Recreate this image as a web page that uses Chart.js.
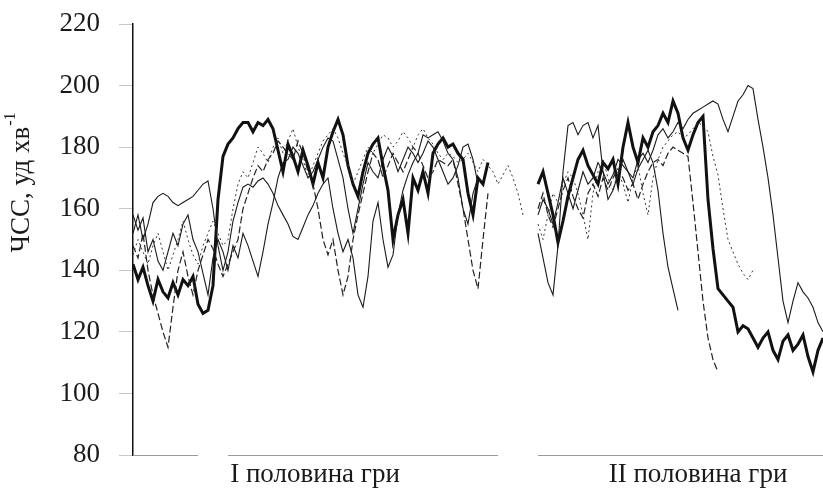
<!DOCTYPE html>
<html>
<head>
<meta charset="utf-8">
<script src="https://cdn.jsdelivr.net/npm/chart.js@4"></script>
<style>
  html, body { margin: 0; padding: 0; background: #fff; }
  #wrap { width: 823px; height: 494px; position: relative; }
</style>
</head>
<body>
<div id="wrap"><canvas id="hr-chart"></canvas></div>
<script>
// heart rate traces, one sample every step along the match
const firstStart = 0;
const secondStart = 81;
const xMax = 138;

const halfLabels = ['I половина гри', 'II половина гри'];
const halfCenters = [36.4, 113];
const axisSegments = [[0, 13], [19, 73], [81, 138]];
const yTicks = [80, 100, 120, 140, 160, 180, 200, 220];

// thick solid line
const thickFirst = [142, 137, 141, 135, 130, 137, 133, 131, 136, 132, 137, 135, 138, 129, 126, 127,
  135, 163, 177, 181, 183, 186, 188, 188, 185, 188, 187, 189, 186, 179, 172, 181, 177, 172, 179, 174,
  168, 175, 170, 180, 185, 189, 184, 174, 168, 164, 172, 178, 181, 183, 174, 166, 150, 158, 163, 152,
  170, 166, 172, 165, 178, 181, 183, 180, 181, 178, 176, 165, 158, 170, 168, 175];
const thickSecond = [168, 172, 165, 158, 149, 156, 164, 170, 176, 179, 174, 171, 168, 175, 173, 176,
  168, 180, 188, 180, 175, 183, 180, 185, 187, 191, 188, 195, 191, 183, 179, 184, 188, 190, 163, 147,
  134, 132, 130, 128, 120, 122, 121, 118, 115, 118, 120, 114, 111, 117, 119, 114, 116, 119, 112, 107,
  114, 118];

// thin solid lines
const thinAFirst = [152, 158, 150, 155, 162, 164, 165, 164, 162, 161, 162, 163, 164, 166, 168, 169,
  160, 148, 140, 146, 156, 162, 167, 168, 167, 169, 170, 168, 165, 161, 158, 155, 151, 150, 154, 158,
  161, 165, 168, 170, 160, 152, 146, 150, 144, 132, 128, 138, 156, 162, 150, 141, 145, 158, 166, 171,
  175, 178, 184, 183, 184, 185, 182, 178, 176, 170, 160, 155, 165, 170];
const thinASecond = [158, 163, 160, 155, 162, 170, 165, 160, 166, 172, 168, 170, 175, 172, 168, 171,
  176, 174, 172, 170, 176, 178, 175, 179, 184, 186, 183, 185, 188, 186, 189, 191, 192, 193, 194, 195,
  194, 189, 185, 190, 195, 197, 200, 199, 189, 180, 170, 158, 144, 130, 123, 130, 136, 133, 131, 128,
  123, 120];

const thinBFirst = [158, 153, 157, 146, 150, 143, 140, 146, 152, 148, 155, 158, 150, 146, 139, 132,
  144, 150, 146, 140, 148, 144, 152, 148, 143, 138, 146, 155, 162, 170, 175, 176, 180, 178, 174, 170,
  172, 176, 180, 183, 182, 176, 170, 160, 152, 160, 168, 175, 172, 170, 176, 180, 177, 172, 176, 180,
  178, 175, 178, 182, 180, 176, 172, 168, 170, 174, 180, 181, 176, 168];
const thinBSecond = [152, 144, 136, 132, 148, 172, 187, 188, 184, 187, 188, 183, 187, 172, 163, 166,
  171, 176, 172, 168, 173, 176, 179, 175, 166, 152, 141, 134, 127];

// dashed line
const dashFirst = [148, 144, 152, 140, 132, 126, 120, 115, 128, 140, 146, 138, 132, 140, 145, 150,
  147, 142, 138, 142, 146, 150, 160, 165, 170, 174, 172, 176, 178, 182, 180, 178, 176, 182, 178, 172,
  168, 160, 150, 145, 150, 140, 132, 138, 150, 158, 165, 172, 178, 176, 170, 174, 178, 175, 172, 176,
  180, 178, 174, 170, 172, 176, 175, 174, 176, 168, 160, 150, 140, 134, 150, 165];
const dashSecond = [160, 165, 158, 154, 160, 166, 170, 164, 160, 157, 165, 168, 164, 170, 166, 170,
  173, 170, 166, 168, 163, 168, 172, 175, 176, 174, 178, 180, 179, 178, 177, 162, 146, 130, 118, 111,
  107];

// dotted line
const dotFirst = [145, 150, 146, 142, 148, 152, 146, 140, 145, 150, 156, 150, 145, 142, 148, 152,
  156, 152, 148, 150, 160, 168, 172, 170, 175, 180, 178, 175, 180, 183, 178, 182, 186, 180, 176, 170,
  174, 178, 182, 184, 186, 183, 178, 174, 168, 172, 176, 180, 178, 181, 184, 183, 180, 182, 185, 183,
  180, 184, 186, 183, 181, 178, 176, 178, 177, 175, 176, 178, 175, 172, 176, 174, 172, 168, 171, 174,
  170, 165, 158];
const dotSecond = [155, 150, 158, 165, 162, 168, 172, 170, 165, 158, 150, 165, 172, 176, 170, 166,
  172, 168, 162, 170, 174, 165, 158, 170, 176, 180, 182, 184, 185, 183, 184, 186, 188, 187, 185, 177,
  171, 160, 150, 146, 142, 139, 137, 140];

function toPoints(first, second) {
    const pts = first.map((v, i) => ({ x: firstStart + i, y: v }));
    pts.push({ x: (first.length + secondStart) / 2, y: null });
    second.forEach((v, i) => pts.push({ x: secondStart + i, y: v }));
    return pts;
}

function makeSet(label, first, second, width, dash, color) {
    return {
        label: label,
        data: toPoints(first, second),
        borderColor: color,
        borderWidth: width,
        borderDash: dash,
        pointRadius: 0,
        tension: 0,
        fill: false,
        spanGaps: false
    };
}

const serif = "'Liberation Serif', 'DejaVu Serif', serif";

const decorPlugin = {
    id: 'decor',
    afterDraw(chart) {
        const ctx = chart.ctx;
        const xs = chart.scales.x;
        const area = chart.chartArea;

        // broken x axis
        ctx.save();
        ctx.strokeStyle = '#9a9a9a';
        ctx.lineWidth = 1;
        axisSegments.forEach(seg => {
            ctx.beginPath();
            ctx.moveTo(xs.getPixelForValue(seg[0]), area.bottom + 0.5);
            ctx.lineTo(xs.getPixelForValue(seg[1]), area.bottom + 0.5);
            ctx.stroke();
        });
        ctx.restore();

        // y axis title with superscript
        ctx.save();
        ctx.translate(22, 183);
        ctx.rotate(-Math.PI / 2);
        ctx.fillStyle = '#1a1a1a';
        ctx.textBaseline = 'middle';
        ctx.font = '27px ' + serif;
        const main = 'ЧСС, уд хв';
        const wMain = ctx.measureText(main).width;
        ctx.font = '16px ' + serif;
        const sup = '-1';
        const wSup = ctx.measureText(sup).width;
        const x0 = -(wMain + wSup) / 2;
        ctx.font = '27px ' + serif;
        ctx.textAlign = 'left';
        ctx.fillText(main, x0, 0);
        ctx.font = '16px ' + serif;
        ctx.fillText(sup, x0 + wMain + 1, -11);
        ctx.restore();
    }
};

new Chart(document.getElementById('hr-chart').getContext('2d'), {
    type: 'line',
    data: {
        datasets: [
            makeSet('dotted', dotFirst, dotSecond, 1, [2, 3], '#333'),
            makeSet('dashed', dashFirst, dashSecond, 1.2, [7, 3], '#222'),
            makeSet('thin B', thinBFirst, thinBSecond, 1.1, [], '#1a1a1a'),
            makeSet('thin A', thinAFirst, thinASecond, 1.1, [], '#1a1a1a'),
            makeSet('thick', thickFirst, thickSecond, 3, [], '#111')
        ]
    },
    options: {
        responsive: true,
        maintainAspectRatio: false,
        animation: false,
        layout: { padding: { top: 24, right: 0, left: 0, bottom: 0 } },
        plugins: {
            legend: { display: false },
            tooltip: { enabled: false }
        },
        scales: {
            x: {
                type: 'linear',
                min: 0,
                max: xMax,
                afterFit: function(scale) {
                    scale.height = 39;
                    scale.paddingLeft = 0;
                    scale.paddingRight = 0;
                },
                afterBuildTicks: function(scale) {
                    scale.ticks = halfCenters.map(v => ({ value: v }));
                },
                grid: { display: false },
                border: { display: false },
                ticks: {
                    autoSkip: false,
                    maxRotation: 0,
                    padding: -4,
                    color: '#1a1a1a',
                    font: { family: serif, size: 27 },
                    callback: function(value, index) { return halfLabels[index]; }
                }
            },
            y: {
                min: 80,
                max: 220,
                afterFit: function(scale) {
                    scale.width = 133;
                    scale.paddingTop = 0;
                    scale.paddingBottom = 0;
                },
                afterBuildTicks: function(scale) {
                    scale.ticks = yTicks.map(v => ({ value: v }));
                },
                grid: { drawOnChartArea: false, drawTicks: true, tickLength: 14, color: '#c8c8c8' },
                border: { display: true, color: '#111', width: 1.5 },
                ticks: {
                    padding: 19,
                    color: '#1a1a1a',
                    font: { family: serif, size: 27 }
                }
            }
        }
    },
    plugins: [decorPlugin]
});
</script>
</body>
</html>
